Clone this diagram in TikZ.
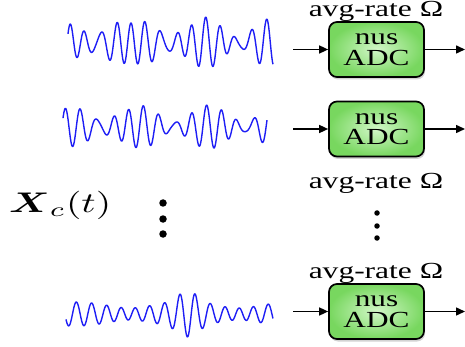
\documentclass[tikz,border=0pt]{standalone}
\usepackage{amsmath}
\usepackage{fontspec}
\setmainfont{Liberation Serif}
\usetikzlibrary{arrows.meta,shadows}
\definecolor{boxin}{RGB}{210,247,200}
\definecolor{boxout}{RGB}{120,215,95}
\definecolor{wave}{RGB}{30,30,245}
\tikzset{
  adc/.style={draw=black, line width=1.7pt, rounded corners=8pt,
    minimum width=95pt, minimum height=55pt, inner sep=0pt,
    shading=radial, inner color=boxin, outer color=boxout,
    drop shadow={opacity=0.35, shadow xshift=1pt, shadow yshift=-2.5pt},
    align=center, font=\fontsize{23}{20.5}\selectfont},
  lbl/.style={font=\fontsize{23}{24}\selectfont, inner sep=0pt, anchor=base},
  sig/.style={draw=wave, line width=1.4pt, line join=round},
  conn/.style={line width=1.5pt, -{Triangle[length=9pt,width=8pt]}},
  vdot/.style={fill=black, draw=none, circle, inner sep=0pt}
}
\begin{document}
\begin{tikzpicture}[x=1pt,y=-1pt]
\useasboundingbox (0,0) rectangle (465,347);
% ADC boxes
\node[adc] (b1) at (376.5,49.5) {\scalebox{1.36}[1]{nus}\\\scalebox{1.36}[1]{ADC}};
\node[adc] (b2) at (376.5,129) {\scalebox{1.36}[1]{nus}\\\scalebox{1.36}[1]{ADC}};
\node[adc] (b3) at (376.5,311.5) {\scalebox{1.36}[1]{nus}\\\scalebox{1.36}[1]{ADC}};
% labels
\node[lbl] (l1) at (376,17) {\scalebox{1.37}[1]{avg-rate Ω}};
\node[lbl] (l2) at (376,189) {\scalebox{1.37}[1]{avg-rate Ω}};
\node[lbl] (l3) at (376,278) {\scalebox{1.37}[1]{avg-rate Ω}};
% input / output coordinates
\coordinate (i1) at (293,49.5);
\coordinate (i2) at (293,129);
\coordinate (i3) at (293,311.5);
\coordinate (o1) at (465,49.5);
\coordinate (o2) at (465,129);
\coordinate (o3) at (465,311.5);
\draw[conn] (i1) -- (b1.west);
\draw[conn] (i2) -- (b2.west);
\draw[conn] (i3) -- (b3.west);
\draw[conn] (b1.east) -- (o1);
\draw[conn] (b2.east) -- (o2);
\draw[conn] (b3.east) -- (o3);
% signals
\draw[sig] plot[domain=68:273, samples=500, smooth]
  (\x, {43 + 15*sin(24*(\x-68)+200) + 8*sin(29*(\x-68)+240) + 3*sin(17*(\x-68)+100)});
\draw[sig] plot[domain=63:267, samples=500, smooth]
  (\x, {127 + 13*sin(23*(\x-63)+210) + 7*sin(28*(\x-63)+200) + 2*sin(17*(\x-63))});
\draw[sig] plot[domain=66:273, samples=500, smooth]
  (\x, {314 + 9*sin(24.3*(\x-66)+20) + 3*sin(21*(\x-66)+50) + 11*exp(-((\x-188)/14)^2)*sin(24.3*(\x-66)+20)});
% X_c(t)
\node[inner sep=0pt, anchor=base west] (X) at (9,212)
  {\resizebox{102pt}{21.3pt}{$\boldsymbol{X}_c(t)$}};
% vertical dots
\node[vdot, minimum size=7.5pt] (d1) at (163,203) {};
\node[vdot, minimum size=7.5pt] (d2) at (163,219) {};
\node[vdot, minimum size=7.5pt] (d3) at (163,234) {};
\node[vdot, minimum size=5.5pt] (e1) at (377,213) {};
\node[vdot, minimum size=5.5pt] (e2) at (377,226) {};
\node[vdot, minimum size=5.5pt] (e3) at (377,238) {};
\end{tikzpicture}
\end{document}
